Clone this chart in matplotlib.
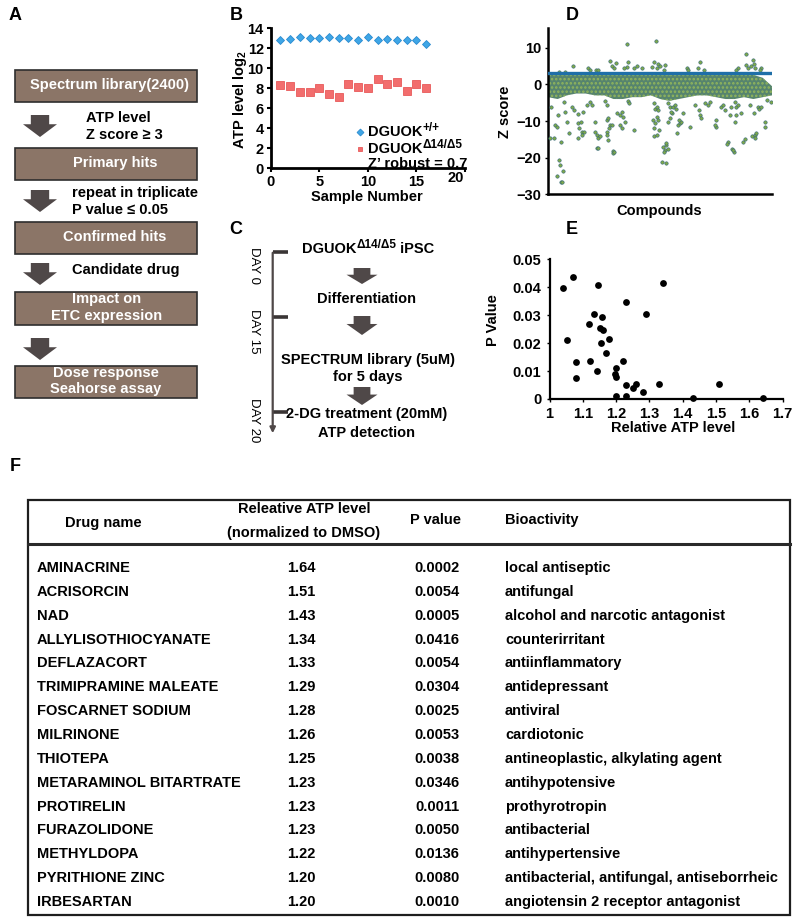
import matplotlib
matplotlib.use("Agg")
import matplotlib.pyplot as plt
from matplotlib.patches import Rectangle, Polygon

plt.rcParams['font.family'] = ['Liberation Sans', 'DejaVu Sans']
plt.rcParams['font.weight'] = 'bold'
plt.rcParams['mathtext.default'] = 'regular'
plt.rcParams['hatch.linewidth'] = 1.2

W, H = 800, 921
FS = 10.5

# ---- panel B: ATP level per sample
samples = list(range(1, 17))
atp_wt = [12.83, 12.93, 13.1, 13.07, 13.07, 13.1, 13.07, 13.07, 12.87, 13.1, 12.87, 12.93, 12.87, 12.87, 12.8, 12.4]
atp_mut = [8.33, 8.26, 7.66, 7.66, 8.0, 7.43, 7.1, 8.43, 8.16, 8.0, 8.9, 8.43, 8.66, 7.76, 8.43, 8.0]

# ---- panel D: z scores of the library (dense band as envelope + readable outliers)
z_threshold = 3
band_x = list(range(0, 2401, 100))
band_top = [2.6, 2.8, 2.5, 2.8, 2.8, 2.6, 2.9, 2.8, 2.8, 2.6, 2.7, 2.9, 2.8, 2.5, 2.7, 2.8, 2.8, 2.6, 2.7, 2.5, 2.8, 2.7, 2.6, 1.8, -0.5]
band_bot = [-3.5, -4.0, -3.0, -2.5, -2.5, -3.0, -3.0, -4.0, -4.0, -3.5, -3.5, -3.0, -4.0, -4.5, -4.0, -3.5, -3.0, -3.0, -3.5, -4.0, -4.0, -3.5, -4.0, -3.5, -3.0]
hit_idx = [840, 1154, 2118, 268, 179, 661, 679, 708, 722, 840, 858, 815, 1000, 922, 508, 429, 1108, 1136, 1161, 1179,
           1197, 1250, 1483, 1500, 1607, 1625, 1672, 2126, 2143, 2179, 2215, 2197, 2036, 2286, 2207, 954, 1243, 118, 2018, 2268,
           536, 447,
           29, 18, 65, 72, 90, 108, 115, 125, 90, 136, 150, 161, 136, 179, 172, 222, 200, 250, 279, 322,
           315, 347, 333, 358, 386, 365, 322, 375, 411, 447, 465, 500, 518, 536, 554, 500, 518, 536, 608, 625,
           625, 643, 661, 654, 625, 679, 625, 643, 690, 697, 708, 733, 768, 786, 804, 822, 768, 786, 850, 865,
           922, 1125, 1143, 1136, 1132, 1130, 1140, 1161, 1179, 1161, 1172, 1186, 1165, 1233, 1250, 1268, 1279, 1258, 1243, 1222,
           1258, 1286, 1304, 1322, 1315, 1340, 1357, 1365, 1286, 1304, 1386, 1393, 1411, 1429, 1400, 1447, 1518, 1572, 1615, 1625,
           1643, 1679, 1715, 1733, 1804, 1797, 1786, 1858, 1893, 1875, 1929, 1922, 1972, 1993, 1986, 1947, 1965, 2018, 2000, 2036,
           2000, 2018, 2072, 2090, 2108, 2190, 2215, 2233, 2215, 2161, 2208, 2250, 2265, 2286, 2322, 2329, 2350, 2393]
hit_z = [10.9, 11.9, 8.3, 5.1, 3.5, 6.4, 5.1, 4.4, 5.7, 4.8, 6.2, 4.4, 4.5, 4.5, 3.9, 4.5, 4.8, 6.2, 4.4, 5.5,
         4.9, 5.3, 4.4, 4.0, 4.4, 6.2, 4.0, 5.3, 4.4, 4.9, 4.4, 6.6, 4.4, 4.4, 5.6, 4.9, 3.9, 3.4, 3.9, 3.9,
         3.9, 3.9,
         -6.1, -14.7, -14.7, -11.1, -11.5, -8.4, -20.6, -21.9, -24.9, -26.6, -26.6, -23.6, -15.6, -7.5, -4.8, -13.4, -10.2, -6.1, -7.0, -8.2,
         -10.6, -10.2, -12.0, -12.9, -12.9, -13.8, -14.7, -7.5, -5.7, -4.8, -5.7, -12.9, -13.8, -14.7, -14.2, -10.2, -17.5, -17.5, -4.6, -5.7,
         -9.7, -9.2, -11.1, -12.0, -12.9, -11.1, -13.8, -15.1, -18.2, -18.8, -18.4, -7.9, -8.4, -7.5, -8.8, -10.2, -11.1, -12.0, -4.6, -5.0,
         -12.4, -9.7, -10.6, -12.0, -14.2, -5.0, -6.6, -6.1, -7.0, -8.8, -9.7, -12.4, -13.8, -17.0, -17.9, -16.6, -17.7, -16.1, -18.5, -21.1,
         -21.5, -5.2, -6.1, -7.9, -7.5, -6.1, -5.7, -6.6, -10.2, -9.3, -13.4, -11.1, -10.6, -10.2, -9.7, -7.9, -11.5, -5.7, -7.0, -8.4,
         -9.3, -5.2, -5.7, -4.8, -9.7, -11.5, -11.1, -6.1, -7.0, -5.7, -15.6, -16.3, -17.7, -18.4, -18.0, -8.4, -6.1, -6.1, -4.8, -5.7,
         -10.2, -8.4, -7.9, -15.6, -14.9, -14.2, -13.8, -13.3, -14.7, -5.7, -7.9, -6.1, -6.6, -6.1, -10.2, -11.5, -4.3, -4.8]

# ---- panels E / F: confirmed hits
drug_names = ["AMINACRINE", "ACRISORCIN", "NAD", "ALLYLISOTHIOCYANATE", "DEFLAZACORT",
              "TRIMIPRAMINE MALEATE", "FOSCARNET SODIUM", "MILRINONE", "THIOTEPA",
              "METARAMINOL BITARTRATE", "PROTIRELIN", "FURAZOLIDONE", "METHYLDOPA",
              "PYRITHIONE ZINC", "IRBESARTAN"]
rel_atp = [1.64, 1.51, 1.43, 1.34, 1.33, 1.29, 1.28, 1.26, 1.25, 1.23, 1.23, 1.23, 1.22, 1.20, 1.20]
p_vals = [0.0002, 0.0054, 0.0005, 0.0416, 0.0054, 0.0304, 0.0025, 0.0053, 0.0038, 0.0346,
          0.0011, 0.0050, 0.0136, 0.0080, 0.0010]
bioactivity = ["local antiseptic", "antifungal", "alcohol and narcotic antagonist", "counterirritant",
               "antiinflammatory", "antidepressant", "antiviral", "cardiotonic",
               "antineoplastic, alkylating agent", "antihypotensive", "prothyrotropin", "antibacterial",
               "antihypertensive", "antibacterial, antifungal, antiseborrheic", "angiotensin 2 receptor antagonist"]
# other confirmed hits below 1.2
other_atp = [1.041, 1.072, 1.053, 1.081, 1.081, 1.145, 1.133, 1.120, 1.158, 1.153, 1.161, 1.179, 1.154, 1.170, 1.122, 1.143, 1.199, 1.198]
other_p = [0.0399, 0.0437, 0.0211, 0.0131, 0.0077, 0.0410, 0.0305, 0.0269, 0.0294, 0.0253, 0.0247, 0.0215, 0.0201, 0.0165, 0.0137, 0.0099, 0.0112, 0.0088]


def rect(x0, y0, x1, y1):
    return [x0 / W, 1 - y1 / H, (x1 - x0) / W, (y1 - y0) / H]


def block_arrow(ax, xc, y0, y1, w, color='#4f4848'):
    head = y0 + (y1 - y0) * 0.42
    sw = w * 0.27
    pts = [(xc - sw, y0), (xc + sw, y0), (xc + sw, head), (xc + w / 2, head),
           (xc, y1), (xc - w / 2, head), (xc - sw, head)]
    ax.add_patch(Polygon(pts, closed=True, color=color, lw=0))


def sup_text(ax, x, y, base, sup, tail=''):
    # base word with a smaller raised superscript, then optional tail text
    t = ax.text(x, y, base, fontsize=FS, ha='left', va='center')
    s = ax.annotate(sup, xy=(1.0, 0.8), xycoords=t, fontsize=8.5, ha='left', va='center')
    if tail:
        ax.annotate(tail, xy=(1.0, 0.5), xycoords=(s, t), fontsize=FS, ha='left', va='center')
    return t


fig = plt.figure(figsize=(W / 100, H / 100), dpi=100)
ov = fig.add_axes([0, 0, 1, 1])
ov.set_xlim(0, W)
ov.set_ylim(H, 0)
ov.axis('off')

# panel letters
for lab, x, y in [('A', 15, 15), ('B', 236, 15), ('D', 572, 15), ('C', 236, 229), ('E', 572, 229), ('F', 15, 466)]:
    ov.text(x, y, lab, fontsize=13, ha='center', va='center')

# ---- panel A flowchart
box_c = '#8b7567'
boxes = [(70, 102, "Spectrum library(2400)", 110), (148, 180, "Primary hits", 115),
         (222, 254, "Confirmed hits", 115), (292, 325, "Impact on\nETC expression", 107),
         (366, 398, "Dose response\nSeahorse assay", 106)]
for y0, y1, txt, xc in boxes:
    ov.add_patch(Rectangle((15, y0), 182, y1 - y0, facecolor=box_c, edgecolor='#2e2e2e', lw=1.2))
    ov.text(xc, (y0 + y1) / 2 - 1, txt, color='white', fontsize=FS, ha='center', va='center', linespacing=1.25)
for y0 in [115, 190, 263, 338]:
    block_arrow(ov, 40, y0, y0 + 22, 34)
ov.text(86, 118, "ATP level", fontsize=FS, va='center')
ov.text(86, 135, "Z score \u2265 3", fontsize=FS, va='center')
ov.text(72, 193, "repeat in triplicate", fontsize=FS, va='center')
ov.text(72, 210, "P value \u2264 0.05", fontsize=FS, va='center')
ov.text(72, 270, "Candidate drug", fontsize=FS, va='center')

# ---- panel C timeline
ov.annotate('', xy=(272.7, 436), xytext=(272.7, 250),
            arrowprops=dict(arrowstyle='-|>', lw=1.6, color='#4f4848', mutation_scale=8))
for yt in [251.7, 317.3, 411.7]:
    ov.plot([272.7, 287.5], [yt, yt], color='#3a3535', lw=2.6, solid_capstyle='butt')
for txt, yc in [('DAY 0', 265), ('DAY 15', 331), ('DAY 20', 420)]:
    ov.text(254, yc, txt, rotation=270, fontsize=9.5, fontweight='normal', ha='center', va='center')
sup_text(ov, 302, 249, 'DGUOK', '\u039414/\u03945', tail=' iPSC')
block_arrow(ov, 362, 268, 284, 31)
ov.text(367, 298.5, "Differentiation", fontsize=FS, ha='center', va='center')
block_arrow(ov, 362, 316, 335, 31)
ov.text(368, 360, "SPECTRUM library (5uM)", fontsize=FS, ha='center', va='center')
ov.text(368, 377, "for 5 days", fontsize=FS, ha='center', va='center')
block_arrow(ov, 362, 387, 405, 31)
ov.text(367, 414, "2-DG treatment (20mM)", fontsize=FS, ha='center', va='center')
ov.text(367, 432.5, "ATP detection", fontsize=FS, ha='center', va='center')

# ---- panel B
axB = fig.add_axes(rect(270.7, 28.3, 465, 168.3))
axB.set_facecolor('none')
axB.plot(samples, atp_wt, 'D', ms=4.0, color='#3fa6e6', mec='#2a8bd0', mew=0.6)
axB.plot(samples, atp_mut, 's', ms=5.4, color='#f26d6d', mec='#e85a5a', mew=0.6)
axB.set_xlim(0, 20)
axB.set_ylim(0, 14)
axB.set_yticks(range(0, 15, 2))
axB.set_xticks([0, 5, 10, 15, 20])
axB.set_xticklabels(['0', '5', '10', '15', ''])
for s in ['top', 'right']:
    axB.spines[s].set_visible(False)
for s in ['left', 'bottom']:
    axB.spines[s].set_linewidth(2)
axB.tick_params(labelsize=FS, width=1.5, length=3, pad=2)
ov.text(456, 178, '20', fontsize=FS, ha='center', va='center')
ov.text(240, 99, r'ATP level log$_2$', fontsize=FS, rotation=90, ha='center', va='center')
ov.text(367, 197, 'Sample Number', fontsize=FS, ha='center', va='center')
ov.plot([360], [132], 'D', ms=3.5, color='#3fa6e6', mec='#2a8bd0', mew=0.6)
ov.plot([360], [149], 's', ms=3.5, color='#f26d6d', mec='#e85a5a', mew=0.6)
sup_text(ov, 368, 132, 'DGUOK', '+/+')
sup_text(ov, 368, 149, 'DGUOK', '\u039414/\u03945')
ov.text(368, 164.5, 'Z\u2019 robust = 0.7', fontsize=FS, va='center')

# ---- panel D
axD = fig.add_axes(rect(548.3, 28.3, 772, 194.3))
axD.set_facecolor('none')
axD.fill_between(band_x, band_bot, band_top, facecolor='#4d7d66', edgecolor='#95b85a',
                 hatch='....', lw=0, alpha=0.95)
axD.scatter(hit_idx, hit_z, s=6, c='#7fa84a', edgecolors='#2e6378', linewidths=0.4, zorder=3)
axD.axhline(z_threshold, color='#1f6fa8', lw=2.4, zorder=4)
axD.set_xlim(0, 2400)
axD.set_ylim(-30, 15.3)
axD.set_yticks([-30, -20, -10, 0, 10])
axD.set_xticks([])
for s in ['top', 'right']:
    axD.spines[s].set_visible(False)
for s in ['left', 'bottom']:
    axD.spines[s].set_linewidth(1.8)
axD.tick_params(labelsize=FS, width=1, length=2, pad=3)
ov.text(505, 112, 'Z score', fontsize=FS, rotation=90, ha='center', va='center')
ov.text(659, 211, 'Compounds', fontsize=FS, ha='center', va='center')

# ---- panel E
axE = fig.add_axes(rect(549.5, 259.5, 782.6, 399))
axE.set_facecolor('none')
axE.scatter(rel_atp + other_atp, p_vals + other_p, s=24, c='black', lw=0, zorder=3, clip_on=False)
axE.set_xlim(1, 1.7)
axE.set_ylim(0, 0.05)
axE.set_xticks([1, 1.1, 1.2, 1.3, 1.4, 1.5, 1.6, 1.7])
axE.set_xticklabels(['1', '1.1', '1.2', '1.3', '1.4', '1.5', '1.6', '1.7'])
axE.set_yticks([0, 0.01, 0.02, 0.03, 0.04, 0.05])
axE.set_yticklabels(['0', '0.01', '0.02', '0.03', '0.04', '0.05'])
for s in ['top', 'right']:
    axE.spines[s].set_visible(False)
for s in ['left', 'bottom']:
    axE.spines[s].set_linewidth(1.6)
axE.tick_params(labelsize=FS, width=1, length=2, pad=4)
ov.text(493, 320, 'P Value', fontsize=FS, rotation=90, ha='center', va='center')
ov.text(673, 428, 'Relative ATP level', fontsize=FS, ha='center', va='center')

# ---- panel F table
ov.add_patch(Rectangle((28, 500), 762, 415, fill=False, edgecolor='#1e1e1e', lw=1.6))
ov.plot([28, 790], [544, 544], color='#2a2a2a', lw=2.2)
ov.text(103, 523, 'Drug name', fontsize=FS, ha='center', va='center')
ov.text(304, 509, 'Releative ATP level', fontsize=FS, ha='center', va='center')
ov.text(304, 533, '(normalized to DMSO)', fontsize=FS, ha='center', va='center')
ov.text(436, 520, 'P value', fontsize=FS, ha='center', va='center')
ov.text(505, 520, 'Bioactivity', fontsize=FS, va='center')
for i, name in enumerate(drug_names):
    y = 568 + i * 23.85
    ov.text(37, y, name, fontsize=FS, va='center')
    ov.text(301, y, f"{rel_atp[i]:.2f}", fontsize=FS, ha='center', va='center')
    ov.text(437, y, f"{p_vals[i]:.4f}", fontsize=FS, ha='center', va='center')
    ov.text(505, y, bioactivity[i], fontsize=FS, va='center')

fig.savefig('out.png', dpi=100)
